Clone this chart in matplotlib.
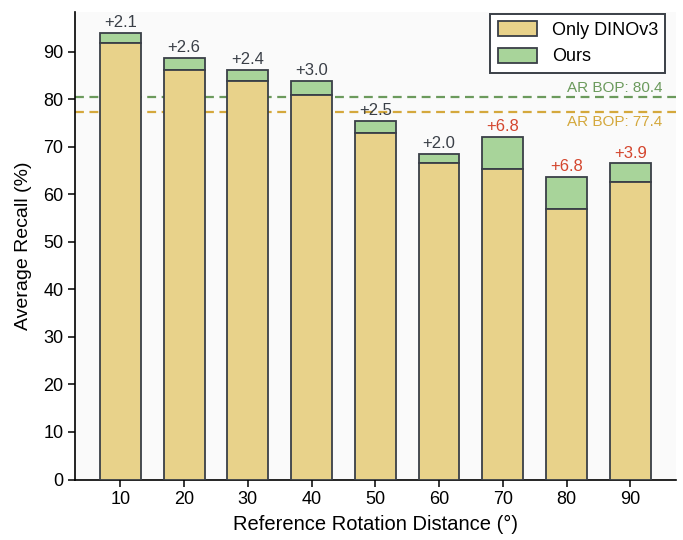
import matplotlib
matplotlib.use("Agg")
from matplotlib import pyplot as plt
import numpy as np

plt.rcParams['font.family'] = ['Liberation Sans', 'DejaVu Sans']

# rotation distance between query and reference view (deg)
distances = [10, 20, 30, 40, 50, 60, 70, 80, 90]
# average recall (%)
only_dino = [91.9, 86.1, 83.8, 80.9, 73.0, 66.6, 65.3, 56.9, 62.6]
ours = [94.0, 88.7, 86.2, 83.9, 75.5, 68.6, 72.1, 63.7, 66.5]
gains = ['+2.1', '+2.6', '+2.4', '+3.0', '+2.5', '+2.0', '+6.8', '+6.8', '+3.9']
highlight = [False, False, False, False, False, False, True, True, True]
ar_bop_ours = 80.4
ar_bop_base = 77.4

c_base = '#e8d28a'
c_ours = '#a8d49a'
c_edge = '#3a3f47'
c_red = '#d4462e'
c_green_line = '#6b9a5c'
c_gold_line = '#d4a83c'

fig = plt.figure(figsize=(6.83, 5.4), dpi=100)
ax = fig.add_axes([0.110, 0.112, 0.880, 0.866])
ax.set_facecolor('#fafafa')

x = np.array(distances, dtype=float)
w = 6.4
base = np.array(only_dino)
top = np.array(ours)

ax.bar(x, top - base, w, bottom=base, color=c_ours, edgecolor=c_edge,
       linewidth=1.3, label='Ours', zorder=3)
ax.bar(x, base, w, color=c_base, edgecolor=c_edge, linewidth=1.3,
       label='Only DINOv3', zorder=3)

for xi, t, g, hl in zip(x, top, gains, highlight):
    ax.text(xi, t + 0.6, g, ha='center', va='bottom', fontsize=12,
            color=c_red if hl else c_edge, zorder=4)

ax.axhline(ar_bop_ours, color=c_green_line, ls='--', lw=1.6, dashes=(4, 2.5), zorder=2)
ax.axhline(ar_bop_base, color=c_gold_line, ls='--', lw=1.6, dashes=(4, 2.5), zorder=2)
ax.text(95.0, ar_bop_ours + 0.6, f'AR BOP: {ar_bop_ours}', ha='right', va='bottom',
        fontsize=11, color=c_green_line)
ax.text(95.0, ar_bop_base - 0.8, f'AR BOP: {ar_bop_base}', ha='right', va='top',
        fontsize=11, color=c_gold_line)

ax.set_xlim(2.9, 97.2)
ax.set_ylim(0, 98.4)
ax.set_xticks(distances)
ax.set_yticks(np.arange(0, 91, 10))
ax.tick_params(labelsize=13, length=5, width=1.1, color='black')
ax.set_xlabel('Reference Rotation Distance (°)', fontsize=14.5, labelpad=5)
ax.set_ylabel('Average Recall (%)', fontsize=14, labelpad=8)
for s in ['top', 'right']:
    ax.spines[s].set_visible(False)
for s in ['left', 'bottom']:
    ax.spines[s].set_linewidth(1.2)

handles, labels = ax.get_legend_handles_labels()
leg = ax.legend(handles[::-1], labels[::-1], loc='upper right', fontsize=13,
                fancybox=False, framealpha=1, edgecolor=c_edge,
                handlelength=2.2, handleheight=0.9, borderaxespad=0.1,
                bbox_to_anchor=(0.985, 1.0))
leg.get_frame().set_linewidth(1.4)

fig.savefig('out.png', dpi=100)
